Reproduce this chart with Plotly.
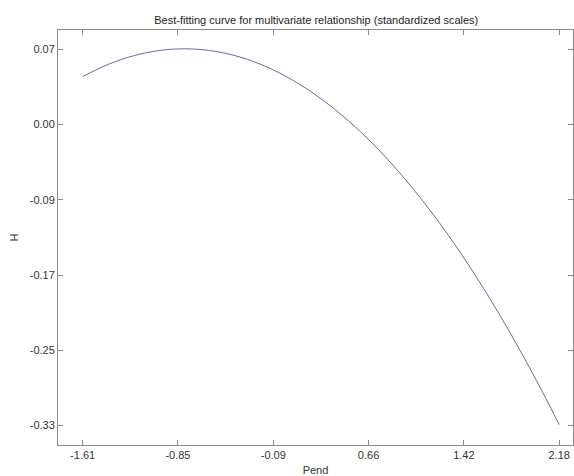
import plotly.graph_objects as go

# Curve values
pend = [-1.61, -1.40, -1.20, -1.00, -0.80, -0.60, -0.40, -0.20, 0.00, 0.20,
        0.40, 0.60, 0.80, 1.00, 1.20, 1.40, 1.60, 1.80, 2.00, 2.18]
h = [0.041, 0.0543, 0.0633, 0.0687, 0.0705, 0.0687, 0.0633, 0.0543, 0.0417, 0.0255,
     0.0057, -0.0177, -0.0447, -0.0753, -0.1095, -0.1473, -0.1887, -0.2337, -0.2823, -0.329]

x_tickvals = [-1.61, -0.852, -0.094, 0.664, 1.422, 2.18]
x_ticktext = ["-1.61", "-0.85", "-0.09", "0.66", "1.42", "2.18"]
y_tickvals = [0.07, -0.01, -0.09, -0.17, -0.25, -0.33]
y_ticktext = ["0.07", "0.00", "-0.09", "-0.17", "-0.25", "-0.33"]

FONT = "Liberation Sans, Arial, sans-serif"
AXC = "#8a8a8a"

fig = go.Figure()
fig.add_trace(go.Scatter(x=pend, y=h, mode="lines",
                         line=dict(color="#6a6aa4", width=1, shape="spline"),
                         showlegend=False))

fig.update_layout(
    width=574, height=476,
    margin=dict(l=58, r=1, t=30, b=31),
    paper_bgcolor="white", plot_bgcolor="white",
    font=dict(family=FONT, size=11, color="#333333"),
    title=dict(text="Best-fitting curve for multivariate relationship (standardized scales)",
               x=0.551, xanchor="center", y=0.958, yanchor="middle",
               font=dict(family=FONT, size=11, color="#222222")),
)
fig.update_xaxes(range=[-1.806, 2.29], tickmode="array", tickvals=x_tickvals,
                 ticktext=x_ticktext, ticks="inside", ticklen=5, tickcolor=AXC,
                 showline=True, linecolor=AXC, linewidth=1, mirror="ticks",
                 showgrid=False, zeroline=False,
                 title=dict(text="Pend", standoff=6, font=dict(size=11)))
fig.update_yaxes(range=[-0.3507, 0.0905], tickmode="array", tickvals=y_tickvals,
                 ticktext=y_ticktext, ticks="inside", ticklen=5, tickcolor=AXC,
                 showline=True, linecolor=AXC, linewidth=1, mirror="ticks",
                 showgrid=False, zeroline=False,
                 title=dict(text="H", standoff=8, font=dict(size=11)))

fig.write_html("out.html")
